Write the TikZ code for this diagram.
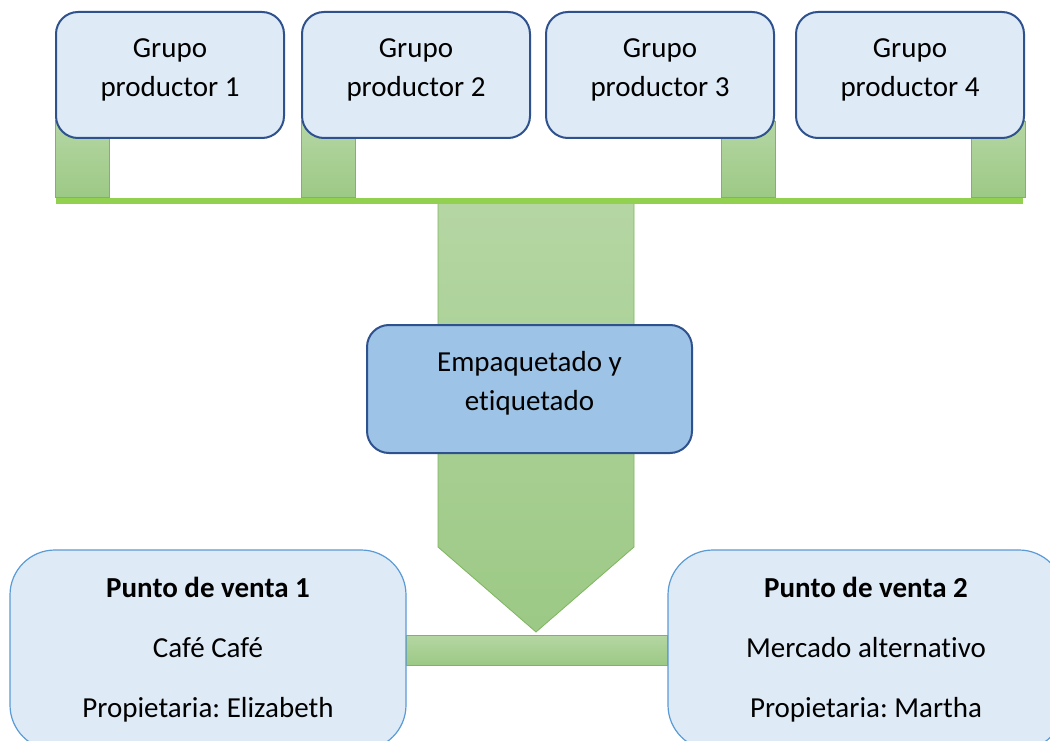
\documentclass[tikz,border=0pt]{standalone}
\usepackage{fontspec}
\setmainfont{Carlito}[Ligatures={NoCommon}]
\frenchspacing
\usetikzlibrary{backgrounds}
\definecolor{boxfill}{HTML}{DEEBF7}
\definecolor{boxline}{HTML}{2F528F}
\definecolor{midfill}{HTML}{9DC3E6}
\definecolor{ventaline}{HTML}{5B9BD5}
\definecolor{legtop}{HTML}{B5D6A3}
\definecolor{legbot}{HTML}{9CC985}
\definecolor{legline}{HTML}{7FB560}
\definecolor{barcol}{HTML}{92D050}
\tikzset{
	grupo/.style={draw=boxline,fill=boxfill,line width=2pt,rounded corners=22pt,minimum width=228pt,minimum height=126pt},
	txt/.style={align=center,font=\fontsize{29}{39}\selectfont},
	empaque/.style={draw=boxline,fill=midfill,line width=2pt,rounded corners=22pt,minimum width=325pt,minimum height=128pt},
	venta/.style={draw=ventaline,fill=boxfill,line width=1.2pt,rounded corners=45pt,minimum width=396pt,minimum height=200pt,align=center,font=\fontsize{29}{60}\selectfont},
	leg/.style={draw=legline,line width=0.8pt,top color=legtop,bottom color=legbot}
}
\begin{document}
\begin{tikzpicture}[x=1pt,y=-1pt]
		\clip (0,0) rectangle (1050,741);
		% barra de recogida
		\node[fill=barcol,inner sep=0pt,minimum width=967pt,minimum height=6pt] (bar) at (539.5,201) {};
		\foreach \i/\x in {1/170,2/416,3/660,4/910}
			\node[grupo,label={[txt,yshift=5pt]center:Grupo\\productor \i}] (g\i) at (\x,75) {};
		\node[empaque,label={[txt,yshift=6pt]center:Empaquetado y\\etiquetado}] (emp) at (529.5,389) {};
		% puntos de venta
		\node[venta] (v1) at (208,650) {\textbf{Punto de venta 1}\\Café Café\\Propietaria: Elizabeth};
		\node[venta] (v2) at (866,650) {\textbf{Punto de venta 2}\\Mercado alternativo\\Propietaria: Martha};
		\begin{pgfonlayer}{background}
			\fill[white] (0,0) rectangle (1050,741);
			\coordinate (tip) at (536,632);
			\draw[leg] (438,201) -- (634,201) -- (634,547) -- (tip) -- (438,547) -- cycle;
			\foreach \i in {1,2}
				\draw[leg] ([yshift=18pt]g\i.south west) rectangle ([xshift=54pt]g\i.south west |- bar.north);
			\foreach \i in {3,4}
				\draw[leg] ([yshift=18pt]g\i.south east) rectangle ([xshift=-54pt]g\i.south east |- bar.north);
			\draw[leg] ([yshift=15pt]v1.east) rectangle ([yshift=-15pt]v2.west);
		\end{pgfonlayer}
	\end{tikzpicture}
\end{document}
